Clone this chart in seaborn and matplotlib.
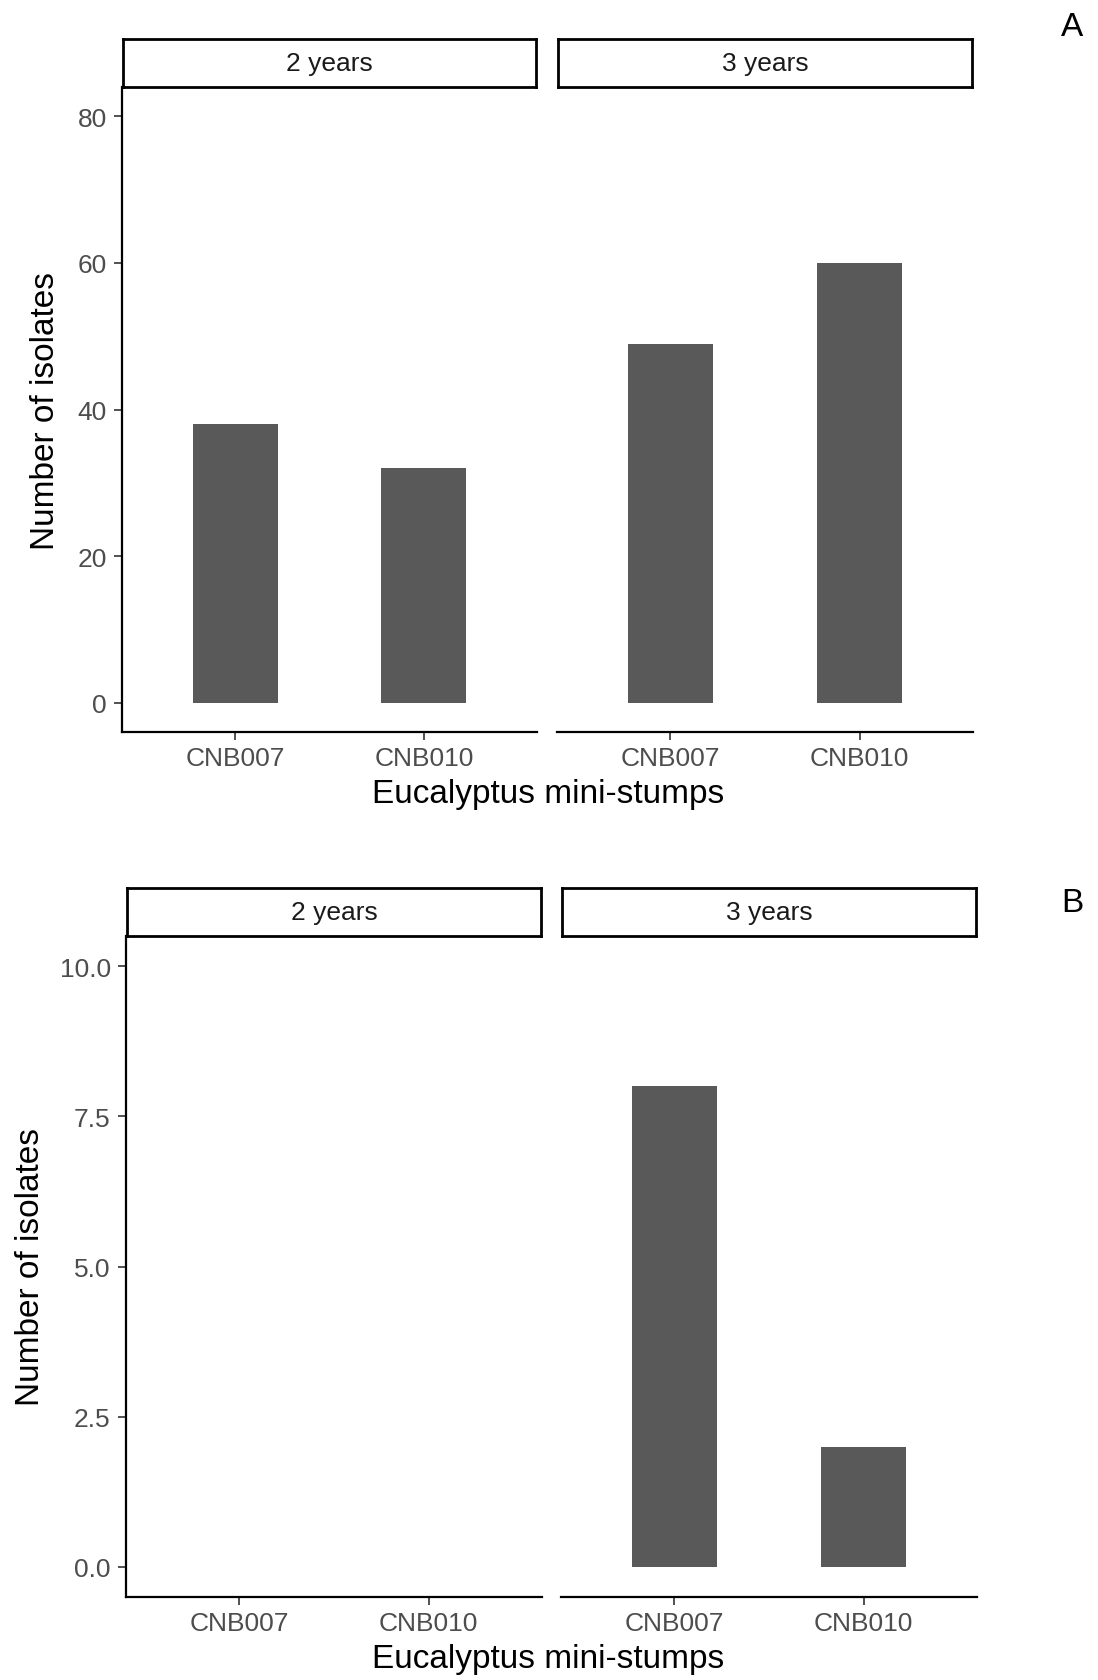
import matplotlib
matplotlib.use("Agg")
import matplotlib.pyplot as plt
import seaborn as sns
import pandas as pd

sns.set_theme(style="white")
plt.rcParams['font.family'] = ['Liberation Sans', 'DejaVu Sans']

# ---------------- data ----------------
stumps = ["CNB007", "CNB010"]
facets = ["2 years", "3 years"]
panelA_2y = [38, 32]
panelA_3y = [49, 60]
panelB_2y = [0, 0]
panelB_3y = [8, 2]
panelA_yticks = [0, 20, 40, 60, 80]
panelA_yticklabels = ["0", "20", "40", "60", "80"]
panelB_yticks = [0.0, 2.5, 5.0, 7.5, 10.0]
panelB_yticklabels = ["0.0", "2.5", "5.0", "7.5", "10.0"]
ylabel = "Number of isolates"
xlabel = "Eucalyptus mini-stumps"

W, H = 1098, 1681
fig = plt.figure(figsize=(W / 100, H / 100), dpi=100)

BAR = "#595959"
TICKC = "#4D4D4D"
LW = 1.6
SLW = 2.0


def add_ax(x0, y0, x1, y1, **kw):
    return fig.add_axes([x0 / W, 1 - y1 / H, (x1 - x0) / W, (y1 - y0) / H], **kw)


def draw_panel(values, yticks, yticklabels, ylim, xs, strip_top, ax_top, ax_bot,
               letter, letter_y, ylab_x):
    for i, (facet, vals) in enumerate(zip(facets, values)):
        x0, x1 = xs[i]
        # data
        ax = add_ax(x0, ax_top, x1, ax_bot)
        df = pd.DataFrame({"stump": stumps, "count": vals})
        sns.barplot(data=df, x="stump", y="count", order=stumps, color=BAR,
                    saturation=1, width=0.45, linewidth=0, ax=ax)
        ax.set_xlim(-0.6, 1.6)
        ax.set_ylim(*ylim)
        ax.set_xlabel(""); ax.set_ylabel("")
        for s in ["top", "right"]:
            ax.spines[s].set_visible(False)
        ax.spines["bottom"].set_linewidth(LW)
        ax.spines["bottom"].set_color("black")
        ax.tick_params(axis="x", length=6, width=1.2, color="#333333",
                       labelsize=19, labelcolor=TICKC, pad=4, bottom=True)
        if i == 0:
            ax.spines["left"].set_linewidth(LW)
            ax.spines["left"].set_color("black")
            ax.set_yticks(yticks)
            ax.set_yticklabels(yticklabels)
            ax.tick_params(axis="y", length=6, width=1.2, color="#333333",
                           labelsize=19, labelcolor=TICKC, pad=5, left=True)
        else:
            ax.spines["left"].set_visible(False)
            ax.set_yticks([])
        ax.grid(False)
        # strip (drawn on top, border inside)
        sax = add_ax(x0 + 1, strip_top + 1, x1 - 1, ax_top, zorder=5)
        sax.set_xticks([]); sax.set_yticks([])
        for sp in sax.spines.values():
            sp.set_visible(True); sp.set_linewidth(SLW); sp.set_color("black")
        sax.set_facecolor("white")
        sax.text(0.5, 0.5, facet, ha="center", va="center", fontsize=19,
                 color="#1A1A1A", transform=sax.transAxes)
    # labels
    fig.text(548 / W, 1 - (ax_bot + 62) / H, xlabel, ha="center", va="center",
             fontsize=24, color="black")
    fig.text(ylab_x / W, 1 - ((ax_top + ax_bot) / 2) / H, ylabel, ha="center",
             va="center", rotation=90, fontsize=24, color="black")
    fig.text(1072 / W, 1 - letter_y / H, letter, ha="center", va="center",
             fontsize=24, color="black")


draw_panel([panelA_2y, panelA_3y], panelA_yticks, panelA_yticklabels, (-4, 84),
           [(122, 537), (557, 973)], 39, 88, 733, "A", 28, 46)
draw_panel([panelB_2y, panelB_3y], panelB_yticks, panelB_yticklabels, (-0.5, 10.5),
           [(126, 542), (561, 977)], 888, 937, 1598, "B", 904, 31)

fig.savefig("out.png", dpi=100, facecolor="white")
